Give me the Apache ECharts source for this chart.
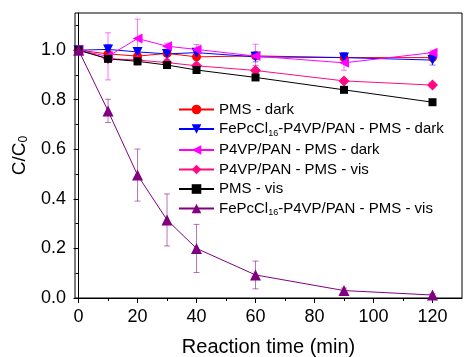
<!DOCTYPE html>
<html>
<head>
<meta charset="utf-8">
<script src="https://cdn.jsdelivr.net/npm/echarts@6/dist/echarts.min.js"></script>
<style>
  html, body { margin: 0; padding: 0; background: #fff; }
  #chart { width: 464px; height: 357px; }
</style>
</head>
<body>
<div id="chart"></div>
<script>
// reaction times (min)
const times = [0, 10, 20, 30, 40, 60, 90, 120]
const xTicks = [0, 20, 40, 60, 80, 100, 120]
const xMinorTicks = [10, 30, 50, 70, 90, 110]
const yTicks = [0, 0.2, 0.4, 0.6, 0.8, 1.0]
const yMinorTicks = [0.1, 0.3, 0.5, 0.7, 0.9, 1.1]

// C/C0 values and error bars
const pmsDark = [1.0, 0.985, 0.976, 0.987, 0.973, 0.977, 0.97, 0.97]
const pmsDarkErr = [0, 0.01, 0.02, 0.01, 0.01, 0.01, 0.01, 0.01]
const fepcDark = [1.0, 1.003, 0.993, 0.985, 0.99, 0.973, 0.97, 0.96]
const fepcDarkErr = [0, 0.02, 0.01, 0.01, 0.01, 0.02, 0.02, 0.02]
const p4vpDark = [1.0, 0.975, 1.047, 1.016, 1.003, 0.976, 0.949, 0.99]
const p4vpDarkErr = [0, 0.095, 0.078, 0.012, 0.02, 0.048, 0.03, 0.01]
const p4vpVis = [1.0, 0.966, 0.96, 0.95, 0.937, 0.918, 0.876, 0.859]
const p4vpVisErr = [0, 0.01, 0.02, 0.01, 0.01, 0.02, 0.01, 0.01]
const pmsVis = [1.0, 0.965, 0.955, 0.94, 0.92, 0.89, 0.84, 0.79]
const pmsVisErr = [0, 0.005, 0.005, 0.005, 0.005, 0.005, 0.005, 0.005]
const fepcVis = [1.0, 0.755, 0.496, 0.315, 0.2, 0.093, 0.03, 0.012]
const fepcVisErr = [0, 0.047, 0.105, 0.105, 0.097, 0.056, 0.01, 0.005]

const FONT = "'Liberation Sans', Arial, sans-serif"

const seriesDefs = [
  { name: 'PMS - dark', color: '#ff0000', values: pmsDark, err: pmsDarkErr, symbol: 'circle', size: 9, rotate: 0 },
  { name: 'FePcCl16-P4VP/PAN - PMS - dark', color: '#0000ff', values: fepcDark, err: fepcDarkErr, symbol: 'triangle', size: 10, rotate: 180 },
  { name: 'P4VP/PAN - PMS - dark', color: '#ff00ff', values: p4vpDark, err: p4vpDarkErr, symbol: 'triangle', size: 10, rotate: 90 },
  { name: 'P4VP/PAN - PMS - vis', color: '#ff0a84', values: p4vpVis, err: p4vpVisErr, symbol: 'diamond', size: 11, rotate: 0 },
  { name: 'PMS - vis', color: '#000000', values: pmsVis, err: pmsVisErr, symbol: 'rect', size: 8, rotate: 0 },
  { name: 'FePcCl16-P4VP/PAN - PMS - vis', color: '#800080', values: fepcVis, err: fepcVisErr, symbol: 'triangle', size: 11, rotate: 0 },
]

function errorBarSeries(def) {
  return {
    type: 'custom',
    silent: true,
    z: 1,
    data: times.map((t, i) => [t, def.values[i], def.err[i]]),
    renderItem: function (params, api) {
      const x = api.value(0), y = api.value(1), e = api.value(2)
      if (!e) return null
      const top = api.coord([x, y + e])
      const bot = api.coord([x, y - e])
      const cw = 3
      const style = { stroke: def.color, lineWidth: 1, opacity: 0.55 }
      return {
        type: 'group',
        children: [
          { type: 'line', shape: { x1: top[0], y1: top[1], x2: bot[0], y2: bot[1] }, style: style },
          { type: 'line', shape: { x1: top[0] - cw, y1: top[1], x2: top[0] + cw, y2: top[1] }, style: style },
          { type: 'line', shape: { x1: bot[0] - cw, y1: bot[1], x2: bot[0] + cw, y2: bot[1] }, style: style },
        ],
      }
    },
  }
}

const series = []
seriesDefs.forEach(def => series.push(errorBarSeries(def)))
seriesDefs.forEach(def => {
  series.push({
    name: def.name,
    type: 'line',
    z: 3,
    data: times.map((t, i) => [t, def.values[i]]),
    symbol: def.symbol,
    symbolSize: def.size,
    symbolRotate: def.rotate,
    itemStyle: { color: def.color },
    lineStyle: { color: def.color, width: 1 },
    animation: false,
  })
})

const chart = echarts.init(document.getElementById('chart'))
chart.setOption({
  animation: false,
  textStyle: { fontFamily: FONT },
  grid: {
    left: 75, right: 2, top: 13, bottom: 59,
    outerBoundsMode: 'none', containLabel: false,
    show: true, borderColor: '#000', borderWidth: 1,
  },
  legend: {
    data: seriesDefs.map(d => d.name),
    orient: 'vertical',
    left: 173,
    top: 97,
    itemWidth: 35,
    itemHeight: 12,
    itemGap: 4.5,
    formatter: function (name) {
      if (name.indexOf('FePcCl16') === 0) {
        return '{t|FePcCl}{s|16}{t|' + name.slice(8) + '}'
      }
      return '{t|' + name + '}'
    },
    textStyle: {
      rich: {
        t: { fontSize: 15, lineHeight: 18, color: '#000', fontFamily: FONT },
        s: { fontSize: 9, lineHeight: 8, verticalAlign: 'bottom', color: '#000', fontFamily: FONT },
      },
    },
  },
  xAxis: [
    {
      type: 'value',
      min: -1.2,
      max: 130,
      position: 'bottom',
      name: 'Reaction time (min)',
      nameLocation: 'middle',
      nameGap: 39,
      nameTextStyle: { fontSize: 20, color: '#000', fontFamily: FONT },
      axisLine: { show: true, lineStyle: { color: '#000', width: 1 } },
      axisTick: { show: true, customValues: xTicks, length: 5, lineStyle: { color: '#000' } },
      axisLabel: { customValues: xTicks, fontSize: 18, color: '#000', margin: 10 },
      splitLine: { show: false },
    },
    {
      type: 'value',
      min: -1.2,
      max: 130,
      position: 'bottom',
      axisLine: { show: false },
      axisTick: { show: true, customValues: xMinorTicks, length: 3, lineStyle: { color: '#000' } },
      axisLabel: { show: false },
      splitLine: { show: false },
    },
  ],
  yAxis: [
    {
      type: 'value',
      min: 0,
      max: 1.15,
      position: 'left',
      name: '{a|C/C}{b|0}',
      nameLocation: 'middle',
      nameGap: 41,
      nameTextStyle: {
        rich: {
          a: { fontSize: 19, lineHeight: 20, color: '#000', fontFamily: FONT },
          b: { fontSize: 12, lineHeight: 8, verticalAlign: 'bottom', color: '#000', fontFamily: FONT },
        },
      },
      axisLine: { show: true, lineStyle: { color: '#000', width: 1 } },
      axisTick: { show: true, customValues: yTicks, length: 5, lineStyle: { color: '#000' } },
      axisLabel: { customValues: yTicks, fontSize: 18, color: '#000', margin: 9, formatter: v => v.toFixed(1) },
      splitLine: { show: false },
    },
    {
      type: 'value',
      min: 0,
      max: 1.15,
      position: 'left',
      axisLine: { show: false },
      axisTick: { show: true, customValues: yMinorTicks, length: 3, lineStyle: { color: '#000' } },
      axisLabel: { show: false },
      splitLine: { show: false },
    },
  ],
  series: series,
})
</script>
</body>
</html>
